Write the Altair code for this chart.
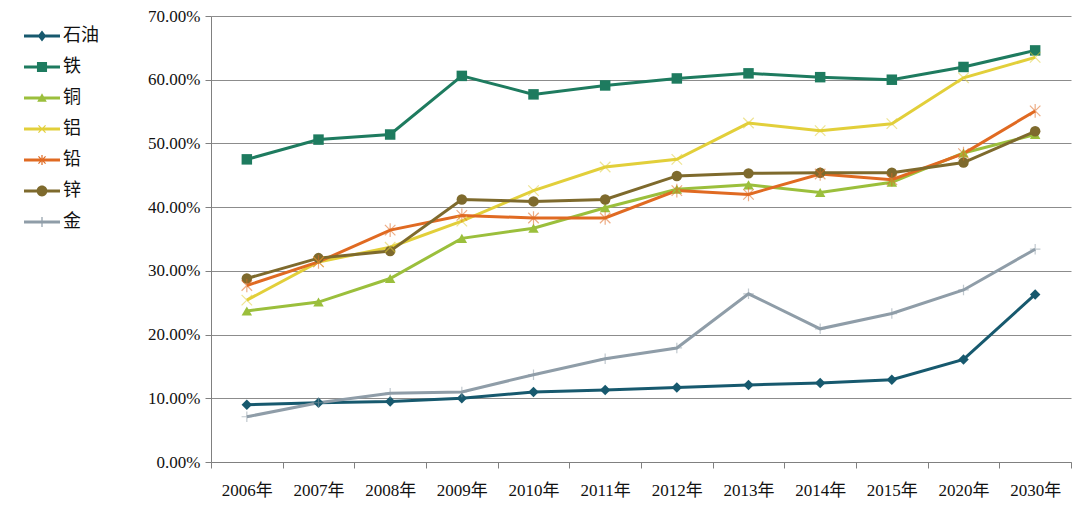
import math
import altair as alt
import pandas as pd

years = ["2006年", "2007年", "2008年", "2009年", "2010年", "2011年",
         "2012年", "2013年", "2014年", "2015年", "2020年", "2030年"]
series = ["石油", "铁", "铜", "铝", "铅", "锌", "金"]

oil    = [9.0, 9.3, 9.5, 10.0, 11.0, 11.3, 11.7, 12.1, 12.4, 12.9, 16.1, 26.3]
iron   = [47.5, 50.6, 51.4, 60.6, 57.7, 59.1, 60.2, 61.0, 60.4, 60.0, 62.0, 64.6]
copper = [23.7, 25.1, 28.8, 35.1, 36.7, 39.9, 42.8, 43.5, 42.3, 43.9, 48.5, 51.4]
alum   = [25.4, 31.4, 33.7, 37.8, 42.6, 46.3, 47.5, 53.2, 52.0, 53.1, 60.3, 63.5]
lead   = [27.7, 31.4, 36.4, 38.7, 38.3, 38.3, 42.6, 42.0, 45.2, 44.3, 48.4, 55.1]
zinc   = [28.8, 32.0, 33.1, 41.2, 40.9, 41.2, 44.9, 45.3, 45.4, 45.4, 47.0, 51.9]
gold   = [7.1, 9.3, 10.8, 11.0, 13.7, 16.2, 17.9, 26.4, 20.9, 23.3, 27.0, 33.4]

values = [oil, iron, copper, alum, lead, zinc, gold]
colors = ["#17596e", "#1e7b5f", "#9bbf3c", "#e2cf3a", "#e06a22", "#7e6a2d", "#8f9da8"]

rows = []
for name, vals in zip(series, values):
    for yr, v in zip(years, vals):
        rows.append({"year": yr, "series": name, "value": v / 100.0})
df = pd.DataFrame(rows)

# ---- marker shapes (styles) ----
X_PATH = "M-1,-1L1,1M-1,1L1,-1"
AST_PATH = "M-1,-1L1,1M-1,1L1,-1M0,-1.3L0,1.3"
PLUS_PATH = "M-1,0L1,0M0,-1L0,1"
chart_shapes = ["diamond", "square", "triangle-up", X_PATH, AST_PATH, "circle", PLUS_PATH]
chart_sizes = [110, 110, 110, 90, 100, 160, 100]


def poly(pts):
    area = 0
    for i in range(len(pts)):
        x1, y1 = pts[i]
        x2, y2 = pts[(i + 1) % len(pts)]
        area += x1 * y2 - x2 * y1
    if area < 0:
        pts = pts[::-1]
    s = "M" + "L".join(f"{x:.3f},{y:.3f}" for x, y in pts) + "Z"
    return s


def rect(x0, y0, x1, y1):
    return poly([(x0, y0), (x1, y0), (x1, y1), (x0, y1)])


def arm(angle_deg, ln=0.42, w=0.05):
    a = math.radians(angle_deg)
    dx, dy = math.cos(a), math.sin(a)
    nx, ny = -dy, dx
    return poly([(-dx * ln + nx * w, -dy * ln + ny * w), (dx * ln + nx * w, dy * ln + ny * w),
                 (dx * ln - nx * w, dy * ln - ny * w), (-dx * ln - nx * w, -dy * ln - ny * w)])


LINE = rect(-1.5, -0.12, 1.5, 0.12)
legend_shapes = [
    LINE + poly([(0, -0.45), (0.36, 0), (0, 0.45), (-0.36, 0)]),
    LINE + rect(-0.42, -0.42, 0.42, 0.42),
    LINE + poly([(0, -0.4), (0.4, 0.32), (-0.4, 0.32)]),
    LINE + arm(45) + arm(135),
    LINE + arm(45) + arm(135) + arm(90),
    LINE + "M-0.45,0A0.45,0.45,0,1,1,0.45,0A0.45,0.45,0,1,1,-0.45,0Z",
    LINE + arm(90),
]

x_enc = alt.X(
    "year:N", sort=years,
    scale=alt.Scale(type="band", paddingInner=0, paddingOuter=0),
    axis=alt.Axis(title=None, grid=False, labelAngle=0, tickBand="extent",
                  domainColor="#808080", tickColor="#808080", tickSize=6,
                  labelPadding=14, labelFont="Liberation Serif, Noto Sans CJK SC",
                  labelFontSize=17, labelColor="#111111"),
)
y_enc = alt.Y(
    "value:Q",
    scale=alt.Scale(domain=[0, 0.7]),
    axis=alt.Axis(title=None, values=[0, 0.1, 0.2, 0.3, 0.4, 0.5, 0.6, 0.7], format=".2%",
                  grid=True, gridColor="#8c8c8c", gridWidth=1,
                  domainColor="#808080", tickColor="#808080", tickSize=6,
                  labelPadding=5, labelFont="Liberation Serif", labelFontSize=17,
                  labelColor="#111111"),
)

color_scale = alt.Scale(domain=series, range=colors)

lines = alt.Chart(df).mark_line(strokeWidth=3).encode(
    x=x_enc, y=y_enc,
    color=alt.Color("series:N", scale=color_scale, legend=None),
    detail="series:N",
)

filled_pts = alt.Chart(df).transform_filter(
    alt.FieldOneOfPredicate(field="series", oneOf=["石油", "铁", "铜", "锌"])
).mark_point(filled=True, opacity=1).encode(
    x=x_enc, y=y_enc,
    color=alt.Color("series:N", scale=color_scale, legend=None),
    shape=alt.Shape("series:N", scale=alt.Scale(domain=series, range=chart_shapes), legend=None),
    size=alt.Size("series:N", scale=alt.Scale(domain=series, range=chart_sizes), legend=None),
)

stroke_pts = alt.Chart(df).transform_filter(
    alt.FieldOneOfPredicate(field="series", oneOf=["铝", "铅", "金"])
).mark_point(filled=False, strokeWidth=1.2, opacity=0.55).encode(
    x=x_enc, y=y_enc,
    color=alt.Color("series:N", scale=color_scale, legend=None),
    shape=alt.Shape("series:N", scale=alt.Scale(domain=series, range=chart_shapes), legend=None),
    size=alt.Size("series:N", scale=alt.Scale(domain=series, range=chart_sizes), legend=None),
)

legend_layer = alt.Chart(df).mark_point(filled=True, size=0, opacity=1).encode(
    x=x_enc, y=y_enc,
    color=alt.Color("series:N", scale=alt.Scale(domain=series, range=colors),
                    legend=alt.Legend(title=None, orient="none", legendX=-181, legendY=8,
                                      symbolSize=576, symbolOpacity=1, symbolStrokeWidth=0,
                                      labelOffset=9, rowPadding=10, padding=0,
                                      labelFont="Noto Sans CJK SC", labelFontSize=18,
                                      labelColor="#111111", labelLimit=200)),
    shape=alt.Shape("series:N", scale=alt.Scale(domain=series, range=legend_shapes),
                    legend=alt.Legend(title=None, orient="none", legendX=-181, legendY=8)),
)

chart = alt.layer(lines, filled_pts, stroke_pts, legend_layer).resolve_scale(
    color="independent", shape="independent"
).properties(
    width=860, height=446,
    autosize=alt.AutoSizeParams(type="none"),
    padding={"left": 203, "top": 8, "right": 1, "bottom": 55},
    background="white",
).configure_view(stroke=None)

chart.save("out.html", embed_options={"renderer": "svg", "actions": False})
